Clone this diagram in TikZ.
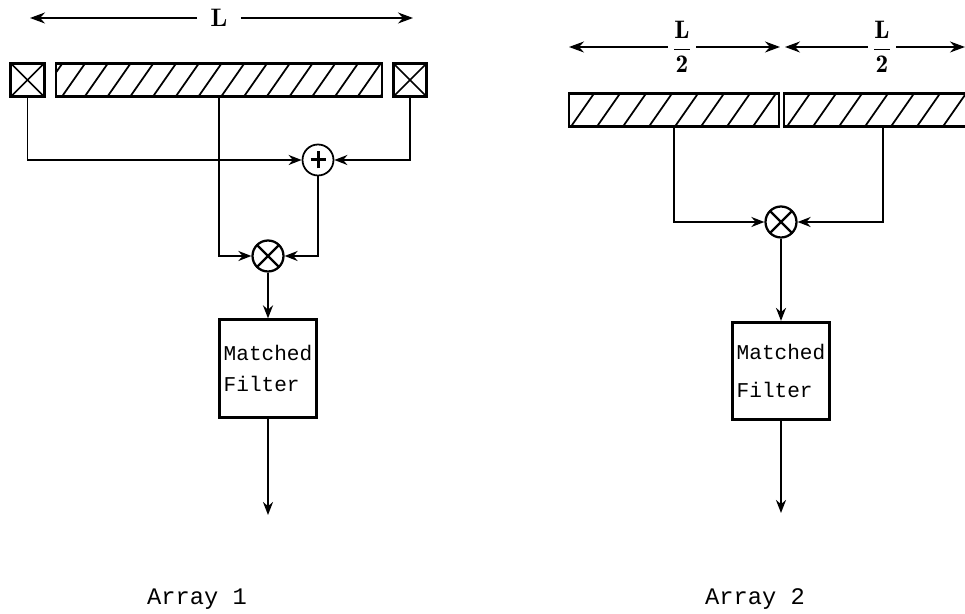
\documentclass[tikz,border=0pt]{standalone}
\usepackage{fontspec}
\setmonofont{Liberation Mono}
\usetikzlibrary{arrows.meta,positioning}
\tikzstyle{arrow} = [line width=0.04cm,->,>={Stealth[length=0.26cm,width=0.2cm]}]
\tikzstyle{dimline} = [line width=0.03cm,->,>={Stealth[length=0.3cm,width=0.22cm]}]
\tikzstyle{filterbox} = [draw,line width=0.055cm,minimum width=1.95cm,minimum height=1.95cm,inner sep=0pt,align=left]
\tikzstyle{caption} = [inner sep=0pt,font=\fontsize{13.5}{16}\selectfont\ttfamily]
\tikzstyle{dimlabel} = [font=\Large]
\tikzset{
    hatchbar/.style n args={3}{draw,line width=0.055cm,inner sep=0pt,minimum width=#1,minimum height=0.66cm,
        path picture={
            \foreach \h in {-1,...,22}
                \draw[line width=0.035cm] ([xshift=\h*#2+#3]path picture bounding box.south west) -- ++(0.46cm,0.66cm);
        }},
    coilbox/.style={draw,line width=0.06cm,inner sep=0pt,minimum size=0.67cm,
        path picture={
            \draw[line width=0.03cm] (path picture bounding box.south west) -- (path picture bounding box.north east);
            \draw[line width=0.03cm] (path picture bounding box.north west) -- (path picture bounding box.south east);
        }},
    mixer/.style={draw,circle,line width=0.045cm,inner sep=0pt,minimum size=0.62cm,
        path picture={
            \draw[line width=0.045cm] (path picture bounding box.center) ++(-0.25cm,-0.25cm) -- ++(0.5cm,0.5cm);
            \draw[line width=0.045cm] (path picture bounding box.center) ++(-0.25cm,0.25cm) -- ++(0.5cm,-0.5cm);
        }},
    summer/.style={draw,circle,line width=0.035cm,inner sep=0pt,minimum size=0.62cm,
        path picture={
            \draw[line width=0.06cm] (path picture bounding box.center) ++(-0.15cm,0) -- ++(0.3cm,0);
            \draw[line width=0.06cm] (path picture bounding box.center) ++(0,-0.17cm) -- ++(0,0.34cm);
        }}
}

\begin{document}
\begin{tikzpicture}[x=0.02cm,y=-0.02cm]
    \useasboundingbox (0,0) rectangle (965,614);

    % Array 1
    \node[dimlabel,inner sep=0.26cm] (lenA) at (219,18) {\raisebox{-0.1cm}{\textbf{L}}};
    \coordinate (lenAleft) at (30,18);
    \coordinate (lenAright) at (413,18);
    \draw[dimline] (lenA) -- (lenAleft);
    \draw[dimline] (lenA) -- (lenAright);

    \node[coilbox] (coilL) at (27.5,80) {};
    \node[hatchbar={6.52cm}{0.455cm}{0.12cm}] (barA) at (219,80) {};
    \node[coilbox] (coilR) at (410,80) {};
    \node[summer] (sumA) at (318,160) {};
    \node[mixer] (mixA) at (268,256) {};
    \node[filterbox,font=\fontsize{12}{18}\selectfont\ttfamily] (filterA) at (268,368.5) {Matched\\Filter};
    \coordinate (outA) at (268,515);
    \node[caption] (capA) at (197,599) {Array 1};

    \draw[arrow] (coilL.south) |- (sumA.west);
    \draw[arrow] (coilR.south) |- (sumA.east);
    \draw[arrow] (barA.south) |- (mixA.west);
    \draw[arrow] (sumA.south) |- (mixA.east);
    \draw[arrow] (mixA.south) -- (filterA.north);
    \draw[arrow] (filterA.south) -- (outA);

    % Array 2
    \node[dimlabel,inner sep=0.08cm] (halfA) at (682,47) {$\displaystyle\frac{\mathbf{L}}{\mathbf{2}}$};
    \node[dimlabel,inner sep=0.08cm] (halfB) at (882,47) {$\displaystyle\frac{\mathbf{L}}{\mathbf{2}}$};
    \coordinate (halfAleft) at (569,47);
    \coordinate (halfAright) at (780,47);
    \coordinate (halfBleft) at (785,47);
    \coordinate (halfBright) at (965,47);
    \draw[dimline] (halfA) -- (halfAleft);
    \draw[dimline] (halfA) -- (halfAright);
    \draw[dimline] (halfB) -- (halfBleft);
    \draw[dimline] (halfB) -- (halfBright);

    \node[hatchbar={4.2cm}{0.52cm}{0.04cm}] (barB) at (674,110) {};
    \node[hatchbar={3.96cm}{0.52cm}{0.06cm}] (barC) at (883,110) {};
    \node[mixer] (mixB) at (781,222) {};
    \node[filterbox,font=\fontsize{12}{22}\selectfont\ttfamily] (filterB) at (781,371) {Matched\\Filter};
    \coordinate (outB) at (781,513);
    \node[caption] (capB) at (755,599) {Array 2};

    \draw[arrow] (barB.south) |- (mixB.west);
    \draw[arrow] (barC.south) |- (mixB.east);
    \draw[arrow] (mixB.south) -- (filterB.north);
    \draw[arrow] (filterB.south) -- (outB);
\end{tikzpicture}
\end{document}
